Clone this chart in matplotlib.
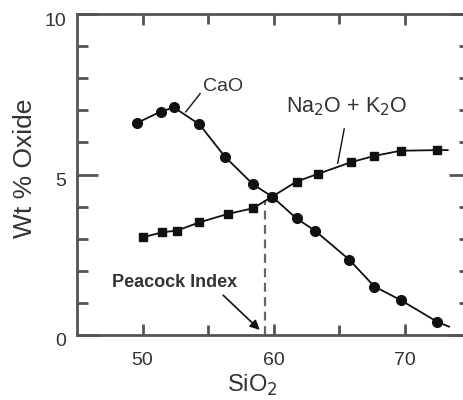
import matplotlib
matplotlib.use("Agg")
import matplotlib.pyplot as plt
import matplotlib.transforms as mtransforms
from matplotlib.ticker import MultipleLocator

plt.rcParams['font.family'] = ['Liberation Sans', 'DejaVu Sans']

# Data
cao_x = [49.6, 51.4, 52.4, 54.35, 56.3, 58.45, 59.9, 61.76, 63.2, 65.8, 67.7, 69.7, 72.5]
cao_y = [6.61, 6.96, 7.09, 6.56, 5.55, 4.69, 4.31, 3.63, 3.24, 2.34, 1.51, 1.09, 0.41]
cao_line_end = (73.4, 0.26)

alk_x = [50.0, 51.5, 52.6, 54.35, 56.5, 58.45, 59.9, 61.76, 63.4, 65.9, 67.7, 69.7, 72.5]
alk_y = [3.04, 3.20, 3.25, 3.51, 3.77, 3.95, 4.31, 4.78, 5.02, 5.38, 5.58, 5.74, 5.76]
alk_line_end = (73.3, 5.76)

peacock_index = 59.35
peacock_y = 4.2

x_major = [50, 60, 70]
x_minor = [55, 65]
y_major = [0, 5, 10]

fig = plt.figure(figsize=(4.64, 4.0), dpi=100)
ax = fig.add_axes([77/464, 1-335/400, (470-77)/464, (335-14)/400])
ax.set_xlim(45, 75)
ax.set_ylim(0, 10)

spine_c = '#555555'
for s in ax.spines.values():
    s.set_color(spine_c)
    s.set_linewidth(2)

lc = '#111111'
ax.plot(cao_x + [cao_line_end[0]], cao_y + [cao_line_end[1]], color=lc, lw=1.3, zorder=3)
ax.plot(cao_x, cao_y, 'o', color=lc, ms=7, zorder=4)
ax.plot(alk_x + [alk_line_end[0]], alk_y + [alk_line_end[1]], color=lc, lw=1.3, zorder=3)
ax.plot(alk_x, alk_y, 's', color=lc, ms=6, zorder=4)

ax.plot([peacock_index, peacock_index], [0, peacock_y], color='#666666', lw=1.6,
        dashes=(4, 2.5), zorder=2)

# annotations
tc = '#333333'
ax.text(54.6, 7.75, 'CaO', fontsize=14, color=tc, ha='left', va='center')
ax.plot([54.4, 53.3], [7.52, 6.95], color=lc, lw=1.0)
ax.text(65.6, 7.1, 'Na$_2$O + K$_2$O', fontsize=15.5, color=tc, ha='center', va='center')
ax.plot([65.4, 64.9], [6.42, 5.35], color=lc, lw=1.0)
ax.text(47.7, 1.65, 'Peacock Index', fontsize=13, fontweight='bold', color=tc,
        ha='left', va='center')
ax.annotate('', xy=(59.1, 0.1), xytext=(56.0, 1.3),
            arrowprops=dict(arrowstyle='-|>', color=lc, lw=1.2, mutation_scale=14))

ax.set_xticks(x_major)
ax.set_xticks(x_minor, minor=True)
ax.set_yticks(y_major)
ax.yaxis.set_minor_locator(MultipleLocator(1))
ax.tick_params(axis='both', which='both', direction='in', color=spine_c, width=2,
               top=True, right=True, labelcolor='#333333', labelsize=14)
ax.tick_params(axis='x', which='major', length=8, pad=12)
ax.tick_params(axis='x', which='minor', length=7)
ax.tick_params(axis='y', which='major', length=15, pad=8)
ax.tick_params(axis='y', which='minor', length=8)

off = mtransforms.ScaledTranslation(0, -5/100, fig.dpi_scale_trans)
for lab in ax.get_yticklabels():
    lab.set_transform(lab.get_transform() + off)

ax.set_xlabel('SiO$_2$', fontsize=17, color='#333333')
ax.xaxis.set_label_coords((252-77)/(470-77), -0.118)
ax.set_ylabel('Wt % Oxide', fontsize=19, color='#333333')
ax.yaxis.set_label_coords(-0.102, 0.52)

fig.savefig('out.png', dpi=100)
